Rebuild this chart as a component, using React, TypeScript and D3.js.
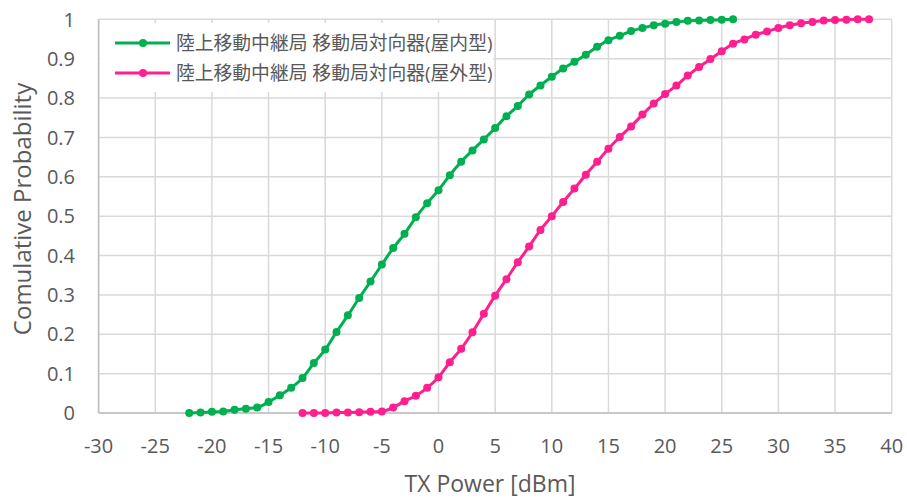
import React from "react";
import * as d3 from "d3";

const indoorX: number[] = d3.range(-22, 27);
const indoorY: number[] = [
  0.0, 0.001, 0.003, 0.004, 0.008, 0.011, 0.014, 0.028, 0.045, 0.064,
  0.089, 0.127, 0.161, 0.206, 0.248, 0.292, 0.334, 0.377, 0.419, 0.455,
  0.497, 0.533, 0.566, 0.604, 0.638, 0.667, 0.695, 0.724, 0.754, 0.78,
  0.809, 0.832, 0.854, 0.875, 0.892, 0.91, 0.93, 0.947, 0.958, 0.97,
  0.978, 0.985, 0.989, 0.993, 0.996, 0.997, 0.998, 0.999, 1.0,
];
const outdoorX: number[] = d3.range(-12, 39);
const outdoorY: number[] = [
  0.0, 0.0, 0.0, 0.001, 0.001, 0.002, 0.003, 0.004, 0.014, 0.03,
  0.044, 0.064, 0.091, 0.129, 0.163, 0.205, 0.252, 0.298, 0.34, 0.383,
  0.423, 0.465, 0.5, 0.536, 0.57, 0.605, 0.638, 0.671, 0.701, 0.728,
  0.758, 0.786, 0.81, 0.832, 0.857, 0.879, 0.899, 0.919, 0.938, 0.949,
  0.961, 0.969, 0.978, 0.985, 0.99, 0.993, 0.997, 0.998, 0.999, 1.0, 1.0,
];
const seriesNames: string[] = [
  "陸上移動中継局 移動局対向器(屋内型)",
  "陸上移動中継局 移動局対向器(屋外型)",
];
const seriesColors: string[] = ["#00b050", "#ff1f8e"];
const xTicks: number[] = d3.range(-30, 41, 5);
const yTicks: number[] = d3.range(0, 11).map((d) => d / 10);
const xTitle = "TX Power [dBm]";
const yTitle = "Comulative Probability";

const W = 907;
const H = 499;
const left = 98.6;
const right = 891.7;
const top = 19.3;
const bottom = 413;

export default function App() {
  const x = d3.scaleLinear().domain([-30, 40]).range([left, right]);
  const y = d3.scaleLinear().domain([0, 1]).range([bottom, top]);
  const series = [
    { xs: indoorX, ys: indoorY },
    { xs: outdoorX, ys: outdoorY },
  ];
  const line = d3
    .line<[number, number]>()
    .x((d) => x(d[0]))
    .y((d) => y(d[1]))
    .curve(d3.curveMonotoneX);
  const font = "'Open Sans', 'Noto Sans CJK JP', sans-serif";
  const grid = "#d9d9d9";
  const textColor = "#595959";
  return (
    <svg
      width={W}
      height={H}
      style={{ position: "absolute", left: 0, top: 0, background: "#fff" }}
      fontFamily={font}
    >
      <rect width={W} height={H} fill="#fff" />
      {yTicks.map((t) => (
        <line key={"gy" + t} x1={left} x2={right} y1={y(t)} y2={y(t)} stroke={grid} strokeWidth={1.5} />
      ))}
      {xTicks.map((t) => (
        <line key={"gx" + t} x1={x(t)} x2={x(t)} y1={top} y2={bottom} stroke={grid} strokeWidth={1.5} />
      ))}
      <line x1={left} x2={left} y1={top} y2={bottom} stroke="#bfbfbf" strokeWidth={1.5} />
      <line x1={left} x2={right} y1={bottom} y2={bottom} stroke="#bfbfbf" strokeWidth={1.5} />
      {yTicks.map((t) => (
        <text key={"ty" + t} x={75} y={y(t)} dy="0.36em" textAnchor="end" fontSize={20} fill={textColor}>
          {d3.format("~g")(t)}
        </text>
      ))}
      {xTicks.map((t) => (
        <text key={"tx" + t} x={x(t)} y={445.5} dy="0.36em" textAnchor="middle" fontSize={20} fill={textColor}>
          {t}
        </text>
      ))}
      <text x={490} y={484} dy="0.35em" textAnchor="middle" fontSize={23} fill={textColor}>
        {xTitle}
      </text>
      <text
        transform={`translate(23, 209) rotate(-90)`}
        dy="0.35em"
        textAnchor="middle"
        fontSize={24}
        fill={textColor}
      >
        {yTitle}
      </text>
      {series.map((s, i) => {
        const pts: [number, number][] = s.xs.map((v, k) => [v, s.ys[k]]);
        return (
          <g key={"s" + i}>
            <path d={line(pts) || ""} fill="none" stroke={seriesColors[i]} strokeWidth={3} />
            {pts.map((p, k) => (
              <circle key={k} cx={x(p[0])} cy={y(p[1])} r={4} fill={seriesColors[i]} />
            ))}
          </g>
        );
      })}
      <rect x={100} y={23} width={393} height={69} fill="#fff" />
      {seriesNames.map((n, i) => {
        const cy = 43 + i * 30;
        return (
          <g key={"lg" + i}>
            <line x1={115} x2={170} y1={cy} y2={cy} stroke={seriesColors[i]} strokeWidth={3} />
            <circle cx={143} cy={cy} r={4} fill={seriesColors[i]} />
            <text x={176} y={cy} dy="0.35em" fontSize={18.8} fill={textColor}>
              {n}
            </text>
          </g>
        );
      })}
    </svg>
  );
}
